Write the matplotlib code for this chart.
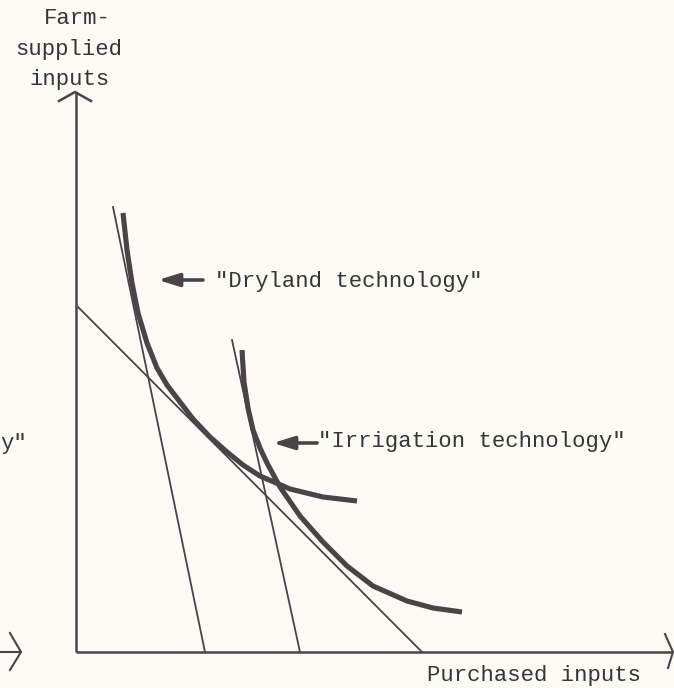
import matplotlib
matplotlib.use("Agg")
import matplotlib.pyplot as plt

# ---- data (diagram units: origin at axes corner) ----
dry_x = [4.7, 5.1, 5.6, 6.2, 7.1, 8.1, 9.1, 10.4, 11.7, 13.4, 15.1, 16.7, 18.4, 21.4, 24.7, 28.1]
dry_y = [43.9, 40.2, 36.9, 33.9, 30.9, 28.4, 26.7, 25.0, 23.3, 21.5, 20.0, 18.7, 17.6, 16.3, 15.5, 15.1]

irr_x = [16.6, 16.8, 17.2, 17.7, 18.4, 19.1, 20.4, 22.4, 24.7, 27.1, 29.7, 33.1, 35.7, 38.6]
irr_y = [30.2, 27.0, 24.4, 22.2, 20.4, 18.9, 16.5, 13.6, 11.0, 8.6, 6.6, 5.1, 4.4, 4.0]

# isocost lines (start, end)
lineA_x = [3.7, 12.9]
lineA_y = [44.5, 0.0]
lineB_x = [15.6, 22.4]
lineB_y = [31.2, 0.0]
lineC_x = [0.2, 34.6]
lineC_y = [34.5, 0.0]

y_label_lines = ["Farm-", "supplied", "inputs"]
x_label = "Purchased inputs"
dry_label = '"Dryland technology"'
irr_label = '"Irrigation technology"'

# ---- style ----
INK = "#4a4347"
TXT = "#363636"
BG = "#fbfaf4"
FONT = "Liberation Mono"
FS = 16

fig = plt.figure(figsize=(6.74, 6.88), dpi=100, facecolor=BG)
ax = fig.add_axes([0, 0, 1, 1])
ax.set_facecolor(BG)
ax.set_xlim(-7.6, 59.8)
ax.set_ylim(-3.6, 65.2)
ax.axis("off")

# axes
ax.plot([0, 0], [0, 56], color=INK, lw=1.8, solid_capstyle="butt")
ax.plot([0, 59.6], [0, 0], color=INK, lw=1.8, solid_capstyle="butt")
# arrowheads (open chevrons)
ax.plot([-1.7, -0.1, 1.5], [55.1, 56.0, 55.1], color=INK, lw=1.8)
ax.plot([58.9, 59.7, 59.2], [1.8, 0.0, -1.6], color=INK, lw=1.5)

# isoquants
ax.plot(dry_x, dry_y, color=INK, lw=3.7, solid_capstyle="butt", solid_joinstyle="round")
ax.plot(irr_x, irr_y, color=INK, lw=3.7, solid_capstyle="butt", solid_joinstyle="round")

# isocost lines
for lx, ly in [(lineA_x, lineA_y), (lineB_x, lineB_y), (lineC_x, lineC_y)]:
    ax.plot(lx, ly, color=INK, lw=1.3)

# label arrows
ap = dict(arrowstyle="-|>,head_length=0.9,head_width=0.28", lw=2.6,
          color=INK, mutation_scale=14, shrinkA=0, shrinkB=0)
ax.annotate("", xy=(8.2, 37.2), xytext=(12.7, 37.2), arrowprops=ap)
ax.annotate("", xy=(19.7, 20.9), xytext=(24.1, 20.9), arrowprops=ap)

# texts
ax.text(13.9, 37.1, dry_label, family=FONT, fontsize=FS, color=TXT, ha="left", va="center")
ax.text(24.2, 21.0, irr_label, family=FONT, fontsize=FS, color=TXT, ha="left", va="center")
ax.text(56.5, -2.3, x_label, family=FONT, fontsize=FS, color=TXT, ha="right", va="center")
for t, xx, yy in zip(y_label_lines, [0.1, -0.7, -0.6], [63.3, 60.3, 57.3]):
    ax.text(xx, yy, t, family=FONT, fontsize=FS, color=TXT, ha="center", va="center")

# cut-off remnants of the neighbouring figure
ax.text(-4.9, 20.9, 'y"', family=FONT, fontsize=FS, color=TXT, ha="right", va="center")
ax.plot([-7.6, -5.5], [0, 0], color=INK, lw=1.5)
ax.plot([-6.6, -5.5, -6.6], [1.9, 0.0, -1.8], color=INK, lw=1.5)

fig.savefig("out.png", dpi=100, facecolor=BG)
